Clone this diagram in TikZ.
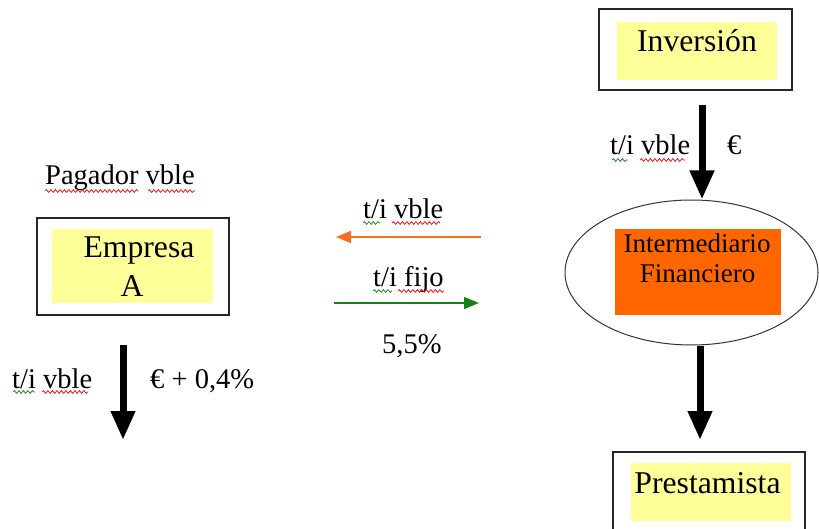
\documentclass[tikz,border=0pt]{standalone}
\usepackage{fontspec}
\setmainfont{Liberation Serif}
\usetikzlibrary{arrows.meta,shapes.geometric,decorations.pathmorphing}

\definecolor{boxyellow}{RGB}{255,255,153}
\definecolor{finorange}{RGB}{255,102,0}
\definecolor{arroworange}{RGB}{247,110,30}
\definecolor{arrowgreen}{RGB}{20,130,20}

\tikzset{
    outerbox/.style={rectangle, draw=black!85, line width=1.4pt, inner sep=0pt, outer sep=0pt},
    yellowfill/.style={rectangle, fill=boxyellow, inner sep=0pt},
    boxtext/.style={inner sep=0pt, font=\fontsize{31.7}{36}\selectfont},
    labeltext/.style={inner sep=0pt, font=\fontsize{28.5}{32}\selectfont},
    bigarrow/.style={line width=7pt, -{Triangle[length=29pt,width=23pt]}},
    thinarrow/.style={line width=1.6pt, -{Triangle[length=15pt,width=12pt]}},
    spellwave/.style={line width=0.7pt, decorate, decoration={snake, amplitude=1.4pt, segment length=4.5pt}}
}
\newcommand{\wavy}[4]{\draw[#1, spellwave] (#2,#4) -- (#3,#4);}

\begin{document}
\begin{tikzpicture}[x=1pt, y=-1pt]
    \useasboundingbox (0,0) rectangle (819,529);

    % Inversion (oben rechts)
    \node[outerbox, minimum width=193pt, minimum height=81pt] (inv) at (695.5,49.5) {};
    \node[yellowfill, minimum width=160pt, minimum height=58pt] (invfill) at (697,51) {};
    \node[boxtext, anchor=base] (invtext) at (697,52) {Inversión};

    % Intermediario Financiero
    \node[ellipse, draw=black!80, line width=1pt, minimum width=253pt, minimum height=145pt, inner sep=0pt] (fin) at (691.5,272.5) {};
    \node[rectangle, fill=finorange, inner sep=0pt, minimum width=166pt, minimum height=86pt] (finfill) at (698,272) {};
    \node[inner sep=0pt, font=\fontsize{27}{30}\selectfont, anchor=base] (fintext1) at (697,253) {Intermediario};
    \node[inner sep=0pt, font=\fontsize{27}{30}\selectfont, anchor=base] (fintext2) at (697.5,283) {Financiero};

    % Prestamista (unten rechts)
    \node[outerbox, minimum width=192pt, minimum height=88pt] (presta) at (709,496) {};
    \node[yellowfill, minimum width=160pt, minimum height=58pt] (prestafill) at (711,492) {};
    \node[boxtext, anchor=base] (prestatext) at (707.5,493) {Prestamista};

    % Empresa A (links)
    \node[outerbox, minimum width=192pt, minimum height=97pt] (emp) at (133,266.5) {};
    \node[yellowfill, minimum width=161pt, minimum height=74pt] (empfill) at (132.5,266) {};
    \node[boxtext, anchor=base] (emptext1) at (139,258) {Empresa};
    \node[boxtext, anchor=base] (emptext2) at (132,297) {A};
    \node[labeltext, anchor=base west] (pagador) at (45,185) {Pagador vble};

    % dicke Pfeile
    \coordinate (empend) at (123,440);
    \draw[bigarrow, shorten <=15pt] ([xshift=6.5pt]inv.south) -- ([xshift=6.5pt]inv.south |- fin.north);
    \draw[bigarrow, shorten >=12pt] ([xshift=8.5pt]fin.south) -- ([xshift=-9pt]presta.north);
    \draw[bigarrow, shorten <=30pt] ([xshift=-10pt]emp.south) -- (empend);

    % Beschriftungen an den Pfeilen
    \node[labeltext, anchor=base west] (invlab) at (610,155) {t/i vble};
    \node[labeltext, anchor=base west] (invcur) at (727,155) {€};
    \node[labeltext, anchor=base west] (emplab) at (12,388) {t/i vble};
    \node[labeltext, anchor=base west] (empcur) at (150,388) {€ + 0,4\%};

    % Swap in der Mitte
    \coordinate (orgstart) at (481,237);
    \coordinate (orgend) at (336,237);
    \coordinate (grnstart) at (334,303);
    \coordinate (grnend) at (479,303);
    \draw[thinarrow, arroworange] (orgstart) -- (orgend);
    \draw[thinarrow, arrowgreen] (grnstart) -- (grnend);
    \node[labeltext, anchor=base west] (swapvar) at (363,219) {t/i vble};
    \node[labeltext, anchor=base west] (swapfix) at (373,287) {t/i fijo};
    \node[labeltext, anchor=base west] (swaprate) at (382,353) {5,5\%};

    % Rechtschreib-Wellen
    \wavy{red}{45}{138}{191}
    \wavy{red}{148}{195}{191}
    \wavy{arrowgreen}{363}{380}{223}
    \wavy{red}{392}{440}{223}
    \wavy{arrowgreen}{373}{392}{291}
    \wavy{red}{398}{444}{291}
    \wavy{arrowgreen}{612}{628}{160}
    \wavy{red}{640}{685}{160}
    \wavy{arrowgreen}{13}{35}{392}
    \wavy{red}{42}{88}{392}
\end{tikzpicture}
\end{document}
